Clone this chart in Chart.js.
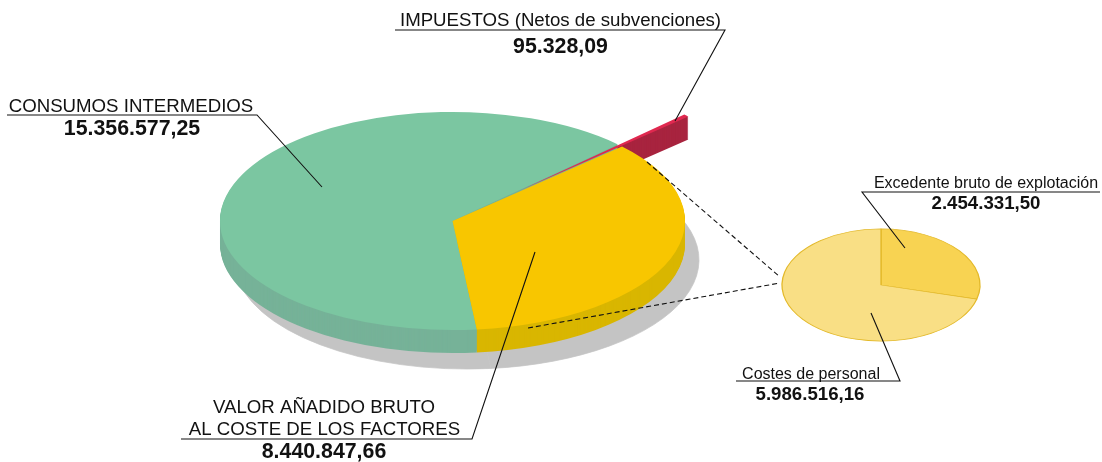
<!DOCTYPE html>
<html>
<head>
<meta charset="utf-8">
<title>Valor de la producción</title>
<script src="https://cdn.jsdelivr.net/npm/chart.js@4"></script>
<style>
    html, body { margin: 0; padding: 0; background: #ffffff; }
    #wrap { position: relative; width: 1102px; height: 462px; overflow: hidden; }
    #wrap canvas { position: absolute; left: 0; top: 0; }
</style>
</head>
<body>
<div id="wrap">
    <canvas id="mainPie" width="1102" height="462"></canvas>
    <canvas id="detailPie" width="1102" height="462"></canvas>
</div>
<script>
// EDITABLE DATA
const mainCategories = ["CONSUMOS INTERMEDIOS", "IMPUESTOS (Netos de subvenciones)", "VALOR AÑADIDO BRUTO AL COSTE DE LOS FACTORES"];
const mainValues = [15356577.25, 95328.09, 8440847.66];
const detailCategories = ["Excedente bruto de explotación", "Costes de personal"];
const detailValues = [2454331.50, 5986516.16];

const mainColors = ['#7bc6a1', '#e0284f', '#f8c600'];
const mainSideColors = ['#76b298', '#a8243f', '#d9b600'];
const detailColors = ['#f8d352', '#f9df85'];

function money(v) {
    return v.toLocaleString('es-ES', { minimumFractionDigits: 2, maximumFractionDigits: 2 });
}

// Paints one arc with other colours, the arc keeps its own angles
function paintArc(ctx, arc, color, border) {
    const saved = arc.options;
    arc.options = Object.assign({}, saved, { backgroundColor: color, borderColor: color, borderWidth: border });
    arc.draw(ctx);
    arc.options = saved;
}

// Flattened pie with thickness and shadow, replaces the normal dataset drawing
const flatPie = {
    id: 'flatPie',
    beforeDatasetsDraw(chart, args, o) {
        const ctx = chart.ctx;
        const arcs = chart.getDatasetMeta(0).data;

        function place(arc, i, dx, dy) {
            const mid = (arc.startAngle + arc.endAngle) / 2;
            const out = o.explode[i] || 0;
            ctx.save();
            ctx.translate(o.cx + dx, o.cy + dy);
            ctx.scale(1, o.squash);
            ctx.translate(-arc.x + Math.cos(mid) * out, -arc.y + Math.sin(mid) * out);
        }

        // shadow
        if (o.shadowColor) {
            arcs.forEach((arc, i) => {
                if (o.explode[i]) return;
                place(arc, i, o.shadowX, o.shadowY);
                paintArc(ctx, arc, o.shadowColor, 1);
                ctx.restore();
            });
        }

        // sides, the exploded slice goes behind and the first slice on top
        const order = arcs.map((a, i) => i).sort((a, b) => ((o.explode[b] || 0) - (o.explode[a] || 0)) || (b - a));
        order.forEach(i => {
            for (let d = o.depth; d > 0; d--) {
                place(arcs[i], i, 0, d);
                paintArc(ctx, arcs[i], o.sideColors[i], 0);
                ctx.restore();
            }
        });

        // tops
        arcs.forEach((arc, i) => {
            place(arc, i, 0, 0);
            arc.draw(ctx);
            ctx.restore();
        });
        return false;
    }
};

const leaderLines = [
    [[395, 30], [725, 30], [675, 121]],
    [[7, 115], [257, 115], [322, 187]],
    [[181, 439], [472, 439], [535, 252]],
    [[862, 192], [1100, 192], [862, 192], [905, 248]],
    [[736, 381], [900, 381], [871, 313]]
];
const dashedLines = [
    [[647, 162], [780, 277]],
    [[528, 328], [780, 283]]
];
const labelTexts = [
    { text: "IMPUESTOS (Netos de subvenciones)", x: 560.5, y: 26, font: '18.67px "Liberation Sans"' },
    { text: money(mainValues[1]), x: 560.5, y: 53, font: 'bold 21.33px "Liberation Sans"' },
    { text: "CONSUMOS INTERMEDIOS", x: 131, y: 112, font: '18.67px "Liberation Sans"' },
    { text: money(mainValues[0]), x: 132, y: 135, font: 'bold 21.33px "Liberation Sans"' },
    { text: "VALOR AÑADIDO BRUTO", x: 324, y: 413, font: '18.67px "Liberation Sans"' },
    { text: "AL COSTE DE LOS FACTORES", x: 324.5, y: 435, font: '18.67px "Liberation Sans"' },
    { text: money(mainValues[2]), x: 324, y: 458, font: 'bold 21.33px "Liberation Sans"' },
    { text: detailCategories[0], x: 986, y: 188, font: '16px "Liberation Sans"' },
    { text: money(detailValues[0]), x: 986, y: 209, font: 'bold 18.67px "Liberation Sans"' },
    { text: detailCategories[1], x: 811, y: 379, font: '16px "Liberation Sans"' },
    { text: money(detailValues[1]), x: 810, y: 400, font: 'bold 18.67px "Liberation Sans"' }
];

// Labels and connector lines on the top canvas
const callouts = {
    id: 'callouts',
    afterDraw(chart) {
        const ctx = chart.ctx;
        ctx.save();
        ctx.strokeStyle = '#111111';
        ctx.lineWidth = 1.1;
        leaderLines.forEach(pts => {
            ctx.beginPath();
            pts.forEach((p, i) => i ? ctx.lineTo(p[0], p[1]) : ctx.moveTo(p[0], p[1]));
            ctx.stroke();
        });
        ctx.setLineDash([5, 3]);
        dashedLines.forEach(pts => {
            ctx.beginPath();
            ctx.moveTo(pts[0][0], pts[0][1]);
            ctx.lineTo(pts[1][0], pts[1][1]);
            ctx.stroke();
        });
        ctx.setLineDash([]);
        ctx.fillStyle = '#111111';
        ctx.textAlign = 'center';
        ctx.textBaseline = 'alphabetic';
        labelTexts.forEach(l => {
            ctx.font = l.font;
            ctx.fillText(l.text, l.x, l.y);
        });
        ctx.restore();
    }
};

function createPie(canvasId, labels, values, colors, radius, rotation, border, look, extraPlugins) {
    return new Chart(document.getElementById(canvasId).getContext('2d'), {
        type: 'pie',
        data: {
            labels: labels,
            datasets: [{
                data: values,
                backgroundColor: colors,
                borderColor: border.color,
                borderWidth: border.width
            }]
        },
        options: {
            responsive: false,
            animation: false,
            events: [],
            radius: radius,
            rotation: rotation,
            plugins: {
                legend: { display: false },
                tooltip: { enabled: false },
                flatPie: look
            }
        },
        plugins: [flatPie].concat(extraPlugins)
    });
}

createPie('mainPie', mainCategories, mainValues, mainColors, 232.5, 174, { color: '#ffffff', width: 0 }, {
    cx: 452.5, cy: 221, squash: 0.469, depth: 23,
    explode: [0, 92, 0], sideColors: mainSideColors,
    shadowColor: '#c4c4c4', shadowX: 14, shadowY: 39
}, []);

createPie('detailPie', detailCategories, detailValues, detailColors, 99, 0, { color: '#e3b92a', width: 1.3 }, {
    cx: 881, cy: 285, squash: 0.566, depth: 0,
    explode: [0, 0], sideColors: detailColors
}, [callouts]);
</script>
</body>
</html>
